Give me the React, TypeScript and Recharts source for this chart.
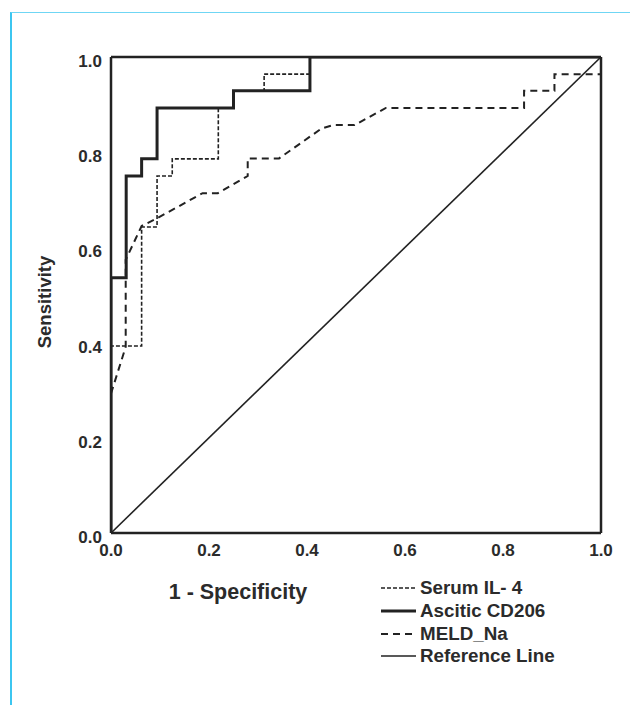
import { LineChart, Line, XAxis, YAxis, ReferenceLine } from 'recharts';

// ROC operating points (1 - specificity, sensitivity)
const serumIL4 = [
    { x: 0, y: 0 }, { x: 0, y: 0.393 }, { x: 0.0625, y: 0.393 }, { x: 0.0625, y: 0.643 },
    { x: 0.094, y: 0.643 }, { x: 0.094, y: 0.75 }, { x: 0.125, y: 0.75 }, { x: 0.125, y: 0.786 },
    { x: 0.219, y: 0.786 }, { x: 0.219, y: 0.893 }, { x: 0.25, y: 0.893 }, { x: 0.25, y: 0.929 },
    { x: 0.3125, y: 0.929 }, { x: 0.3125, y: 0.964 }, { x: 0.406, y: 0.964 }, { x: 0.406, y: 1 },
    { x: 1, y: 1 },
];

const asciticCD206 = [
    { x: 0, y: 0 }, { x: 0, y: 0.536 }, { x: 0.031, y: 0.536 }, { x: 0.031, y: 0.75 },
    { x: 0.0625, y: 0.75 }, { x: 0.0625, y: 0.786 }, { x: 0.094, y: 0.786 }, { x: 0.094, y: 0.893 },
    { x: 0.25, y: 0.893 }, { x: 0.25, y: 0.929 }, { x: 0.406, y: 0.929 }, { x: 0.406, y: 1 },
    { x: 1, y: 1 },
];

const meldNa = [
    { x: 0, y: 0.293 }, { x: 0.03, y: 0.391 }, { x: 0.03, y: 0.574 }, { x: 0.0625, y: 0.645 },
    { x: 0.092, y: 0.66 }, { x: 0.187, y: 0.714 }, { x: 0.218, y: 0.714 }, { x: 0.279, y: 0.75 },
    { x: 0.279, y: 0.787 }, { x: 0.343, y: 0.787 }, { x: 0.43, y: 0.85 }, { x: 0.453, y: 0.857 },
    { x: 0.497, y: 0.857 }, { x: 0.561, y: 0.893 }, { x: 0.843, y: 0.893 }, { x: 0.843, y: 0.929 },
    { x: 0.905, y: 0.929 }, { x: 0.905, y: 0.964 }, { x: 1, y: 0.964 }, { x: 1, y: 1 },
];

const referenceLine = [{ x: 0, y: 0 }, { x: 1, y: 1 }];

const ticks = [0, 0.2, 0.4, 0.6, 0.8, 1.0];

const ink = '#222';
const font = 'Arial, "Liberation Sans", Helvetica, sans-serif';

const series = [
    { name: 'Serum IL- 4', data: serumIL4, width: 1.6, dash: '4 2' },
    { name: 'Ascitic CD206', data: asciticCD206, width: 3, dash: undefined },
    { name: 'MELD_Na', data: meldNa, width: 2, dash: '7 5' },
    { name: 'Reference Line', data: referenceLine, width: 1.6, dash: undefined },
];

const tickStyle = { fontSize: 17, fontWeight: 700, fill: '#2b2b2b', fontFamily: font };

export default function App() {
    const drawOrder = [series[3], series[2], series[0], series[1]];
    return (
        <div style={{ position: 'absolute', left: 0, top: 0, width: 630, height: 705, background: '#fff', fontFamily: font }}>
            <div style={{
                position: 'absolute', left: 10, top: 12, width: 640, height: 720,
                borderLeft: '2px solid #3cc6f0', borderTop: '1.5px solid #6fd6f4'
            }} />
            <div style={{ position: 'absolute', left: 0, top: 0 }}>
                <LineChart
                    width={630}
                    height={705}
                    margin={{ top: 57, right: 29, left: 71, bottom: 142 }}
                >
                    <XAxis
                        type="number"
                        dataKey="x"
                        domain={[0, 1]}
                        ticks={ticks}
                        interval={0}
                        tickFormatter={(v) => v.toFixed(1)}
                        tickLine={false}
                        tickSize={0}
                        tickMargin={11}
                        height={30}
                        axisLine={{ stroke: ink, strokeWidth: 2.5 }}
                        tick={tickStyle}
                        allowDataOverflow
                    />
                    <YAxis
                        type="number"
                        dataKey="y"
                        domain={[0, 1]}
                        ticks={ticks}
                        interval={0}
                        tickFormatter={(v) => v.toFixed(1)}
                        tickLine={false}
                        tickSize={0}
                        tickMargin={9}
                        width={40}
                        axisLine={{ stroke: ink, strokeWidth: 2.5 }}
                        tick={{ ...tickStyle, dy: 4 }}
                        allowDataOverflow
                    />
                    <ReferenceLine y={1} stroke={ink} strokeWidth={2.5} />
                    <ReferenceLine x={1} stroke={ink} strokeWidth={2.5} />
                    {drawOrder.map((s) => (
                        <Line
                            key={s.name}
                            data={s.data}
                            dataKey="y"
                            type="linear"
                            stroke={ink}
                            strokeWidth={s.width}
                            strokeDasharray={s.dash}
                            dot={false}
                            activeDot={false}
                            isAnimationActive={false}
                        />
                    ))}
                </LineChart>
            </div>
            <div style={{
                position: 'absolute', left: 45, top: 302, transform: 'translate(-50%, -50%) rotate(-90deg)',
                fontSize: 18.5, fontWeight: 700, color: '#2b2b2b', whiteSpace: 'nowrap'
            }}>
                Sensitivity
            </div>
            <div style={{
                position: 'absolute', left: 238, top: 592, transform: 'translate(-50%, -50%)',
                fontSize: 21.5, fontWeight: 700, color: '#2b2b2b', whiteSpace: 'nowrap'
            }}>
                1 - Specificity
            </div>
            <div style={{ position: 'absolute', left: 381, top: 577 }}>
                {series.map((s) => (
                    <div key={s.name} style={{ display: 'flex', alignItems: 'center', height: 22.7 }}>
                        <svg width={35} height={10}>
                            <line x1={0} y1={5} x2={35} y2={5} stroke={ink}
                                strokeWidth={s.width} strokeDasharray={s.dash} />
                        </svg>
                        <span style={{ marginLeft: 4, fontSize: 18.8, fontWeight: 700, color: '#2b2b2b', whiteSpace: 'nowrap' }}>
                            {s.name}
                        </span>
                    </div>
                ))}
            </div>
        </div>
    );
}
